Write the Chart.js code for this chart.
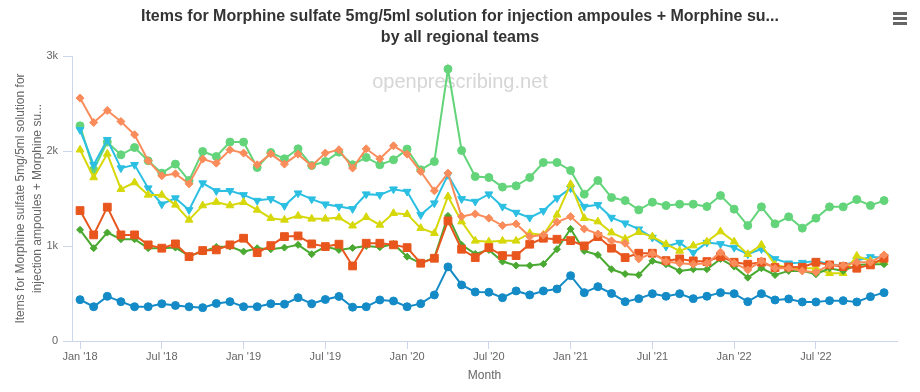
<!DOCTYPE html>
<html>
<head>
<meta charset="utf-8">
<script src="https://cdn.jsdelivr.net/npm/chart.js@4.4.0/dist/chart.umd.min.js"></script>
<style>
  html, body { margin: 0; padding: 0; background: #fff; }
  #wrap { position: relative; width: 920px; height: 392px; overflow: hidden; }
  #title { position: absolute; left: 0; top: 5px; width: 920px; text-align: center; font: bold 16px "Liberation Sans", Arial, sans-serif; line-height: 21px; color: #333; }
  #menu { position: absolute; left: 893px; top: 12px; width: 14px; }
  #menu span { display: block; height: 2.5px; background: #666; margin-bottom: 2.5px; }
  canvas { position: absolute; left: 0; top: 0; }
</style>
</head>
<body>
<div id="wrap">
  <canvas id="chart" width="920" height="392"></canvas>
  <div id="title">Items for Morphine sulfate 5mg/5ml solution for injection ampoules + Morphine su...<br>by all regional teams</div>
  <div id="menu"><span></span><span></span><span></span></div>
</div>
<script>
// months Jan 2018 .. Dec 2022
const months = [];
for (let y = 2018; y <= 2022; y++) {
  for (let m = 1; m <= 12; m++) months.push(y + '-' + String(m).padStart(2, '0'));
}

const tickIdx = [0, 6, 12, 18, 24, 30, 36, 42, 48, 54];
const tickLabels = ["Jan '18", "Jul '18", "Jan '19", "Jul '19", "Jan '20", "Jul '20", "Jan '21", "Jul '21", "Jan '22", "Jul '22"];

const salmon = [2557, 2300, 2427, 2311, 2171, 1897, 1739, 1760, 1654, 1915, 1872, 2013, 1978, 1855, 1970, 1862, 1967, 1844, 1978, 2013,
  1820, 2023, 1918, 2055, 1967, 1784, 1581, 1767, 1310, 1338, 1293, 1215, 1233, 1099, 1117, 1251, 1310, 1180, 1127, 1054,
  1029, 864, 924, 836, 819, 808, 819, 935, 819, 748, 843, 766, 766, 738, 724, 801, 794, 829, 829, 906];
const redOrange = [1373, 1117, 1409, 1117, 1117, 1012, 977, 1022, 888, 952, 959, 1012, 1082, 930, 1004, 1099, 1106, 1022, 994, 1019,
  790, 1029, 1029, 1012, 983, 819, 871, 1264, 966, 878, 983, 899, 899, 1019, 1082, 1071, 1057, 1001, 1099, 977,
  878, 924, 924, 846, 864, 843, 836, 888, 829, 808, 829, 773, 780, 776, 829, 801, 783, 766, 801, 871];
const darkGreen = [1170, 977, 1141, 1071, 1071, 977, 977, 983, 896, 941, 990, 994, 941, 977, 966, 983, 1012, 914, 994, 959,
  980, 1001, 987, 1022, 888, 819, 878, 1317, 1012, 917, 959, 836, 794, 794, 811, 966, 1180, 948, 906, 755,
  706, 695, 843, 808, 738, 755, 755, 864, 783, 667, 766, 695, 738, 738, 703, 766, 738, 801, 808, 808];
const yellow = [2013, 1721, 1970, 1598, 1668, 1538, 1538, 1433, 1275, 1426, 1462, 1426, 1461, 1380, 1293, 1275, 1317, 1286, 1286, 1299,
  1213, 1303, 1222, 1345, 1335, 1188, 1135, 1521, 1257, 1054, 1046, 1054, 1054, 1135, 1117, 1328, 1651, 1293, 1257, 1141,
  1075, 1145, 1099, 1019, 948, 1004, 1046, 1152, 1046, 914, 1012, 801, 773, 766, 766, 713, 713, 896, 843, 829];
const cyan = [2223, 1855, 2118, 1820, 1855, 1609, 1440, 1504, 1380, 1662, 1580, 1581, 1538, 1478, 1496, 1423, 1556, 1493, 1440, 1415,
  1391, 1546, 1538, 1598, 1573, 1328, 1451, 1749, 1496, 1468, 1546, 1415, 1352, 1299, 1370, 1504, 1609, 1415, 1433, 1299,
  1240, 1177, 1089, 994, 1036, 930, 1036, 1022, 983, 914, 969, 864, 819, 825, 843, 808, 794, 846, 885, 878];
const lightGreen = [2265, 1802, 2094, 1960, 2037, 1897, 1767, 1862, 1689, 1995, 1942, 2094, 2094, 1826, 1984, 1918, 2023, 1847, 1889, 1988,
  1855, 1932, 1855, 1907, 2020, 1802, 1889, 2863, 2005, 1731, 1721, 1620, 1633, 1721, 1879, 1879, 1795, 1546, 1689, 1510,
  1478, 1380, 1461, 1426, 1440, 1440, 1415, 1531, 1388, 1215, 1412, 1233, 1307, 1188, 1293, 1412, 1412, 1489, 1426, 1478];
const blue = [435, 361, 470, 414, 361, 361, 392, 374, 360, 351, 395, 414, 361, 361, 392, 388, 456, 392, 437, 469,
  356, 361, 432, 421, 361, 393, 485, 780, 590, 516, 513, 456, 527, 485, 527, 548, 688, 509, 572, 500,
  414, 446, 498, 471, 498, 446, 471, 509, 498, 414, 498, 432, 443, 411, 411, 425, 425, 411, 467, 509];

const yTitle = ['Items for Morphine sulfate 5mg/5ml solution for', 'injection ampoules + Morphine su...'];

function pts(arr) {
  return arr.map((v, i) => ({ x: i, y: v }));
}

function series(data, color, style, radius, rotation) {
  return {
    data: pts(data),
    borderColor: color,
    backgroundColor: color,
    pointBackgroundColor: color,
    pointBorderColor: color,
    pointStyle: style,
    pointRadius: radius,
    pointRotation: rotation || 0,
    pointBorderWidth: 1,
    borderWidth: 2,
    tension: 0
  };
}

const watermark = {
  id: 'watermark',
  beforeDatasetsDraw(chart) {
    const ctx = chart.ctx;
    ctx.save();
    ctx.font = '20px "Liberation Sans", Arial, sans-serif';
    ctx.fillStyle = '#d6d6d6';
    ctx.textAlign = 'center';
    ctx.textBaseline = 'middle';
    ctx.fillText('openprescribing.net', 460, 82);
    ctx.restore();
  }
};

new Chart(document.getElementById('chart').getContext('2d'), {
  type: 'line',
  data: {
    labels: months,
    datasets: [
      series(salmon, '#f98c5a', 'rectRot', 4),
      series(redOrange, '#e8561e', 'rect', 5.5),
      series(darkGreen, '#4aa931', 'rectRot', 3.5),
      series(yellow, '#d6d80a', 'triangle', 4.5),
      series(cyan, '#2bbfe2', 'triangle', 4.5, 180),
      series(lightGreen, '#63d47a', 'circle', 4),
      series(blue, '#148bc6', 'circle', 4)
    ]
  },
  options: {
    responsive: false,
    animation: false,
    layout: { padding: { top: 56, right: 23, bottom: 0, left: 0 } },
    plugins: { legend: { display: false }, tooltip: { enabled: false } },
    scales: {
      x: {
        type: 'linear',
        min: -0.59,
        max: 59.95,
        afterBuildTicks: s => { s.ticks = tickIdx.map(v => ({ value: v })); },
        afterFit: s => { s.height = 51; },
        ticks: {
          autoSkip: false, maxRotation: 0, padding: 1,
          color: '#666', font: { size: 11, family: '"Liberation Sans", Arial, sans-serif' },
          callback: v => tickLabels[tickIdx.indexOf(v)]
        },
        grid: { drawOnChartArea: false, tickLength: 8, color: '#ccd6eb' },
        border: { color: '#ccd6eb' },
        title: {
          display: true, text: 'Month', color: '#666',
          font: { size: 12, family: '"Liberation Sans", Arial, sans-serif' },
          padding: { top: 4, bottom: 9 }
        }
      },
      y: {
        min: 0,
        max: 3000,
        afterFit: s => { s.width = 72; },
        ticks: {
          stepSize: 1000, padding: 5,
          color: '#666', font: { size: 11, family: '"Liberation Sans", Arial, sans-serif' },
          callback: v => v === 0 ? '0' : (v / 1000) + 'k'
        },
        grid: { drawOnChartArea: false, tickLength: 9, color: '#ccd6eb' },
        border: { color: '#ccd6eb' },
        title: {
          display: true, text: yTitle, color: '#666',
          font: { size: 12, lineHeight: 1.4, family: '"Liberation Sans", Arial, sans-serif' },
          padding: { top: 12, bottom: 0 }
        }
      }
    }
  },
  plugins: [watermark]
});
</script>
</body>
</html>
